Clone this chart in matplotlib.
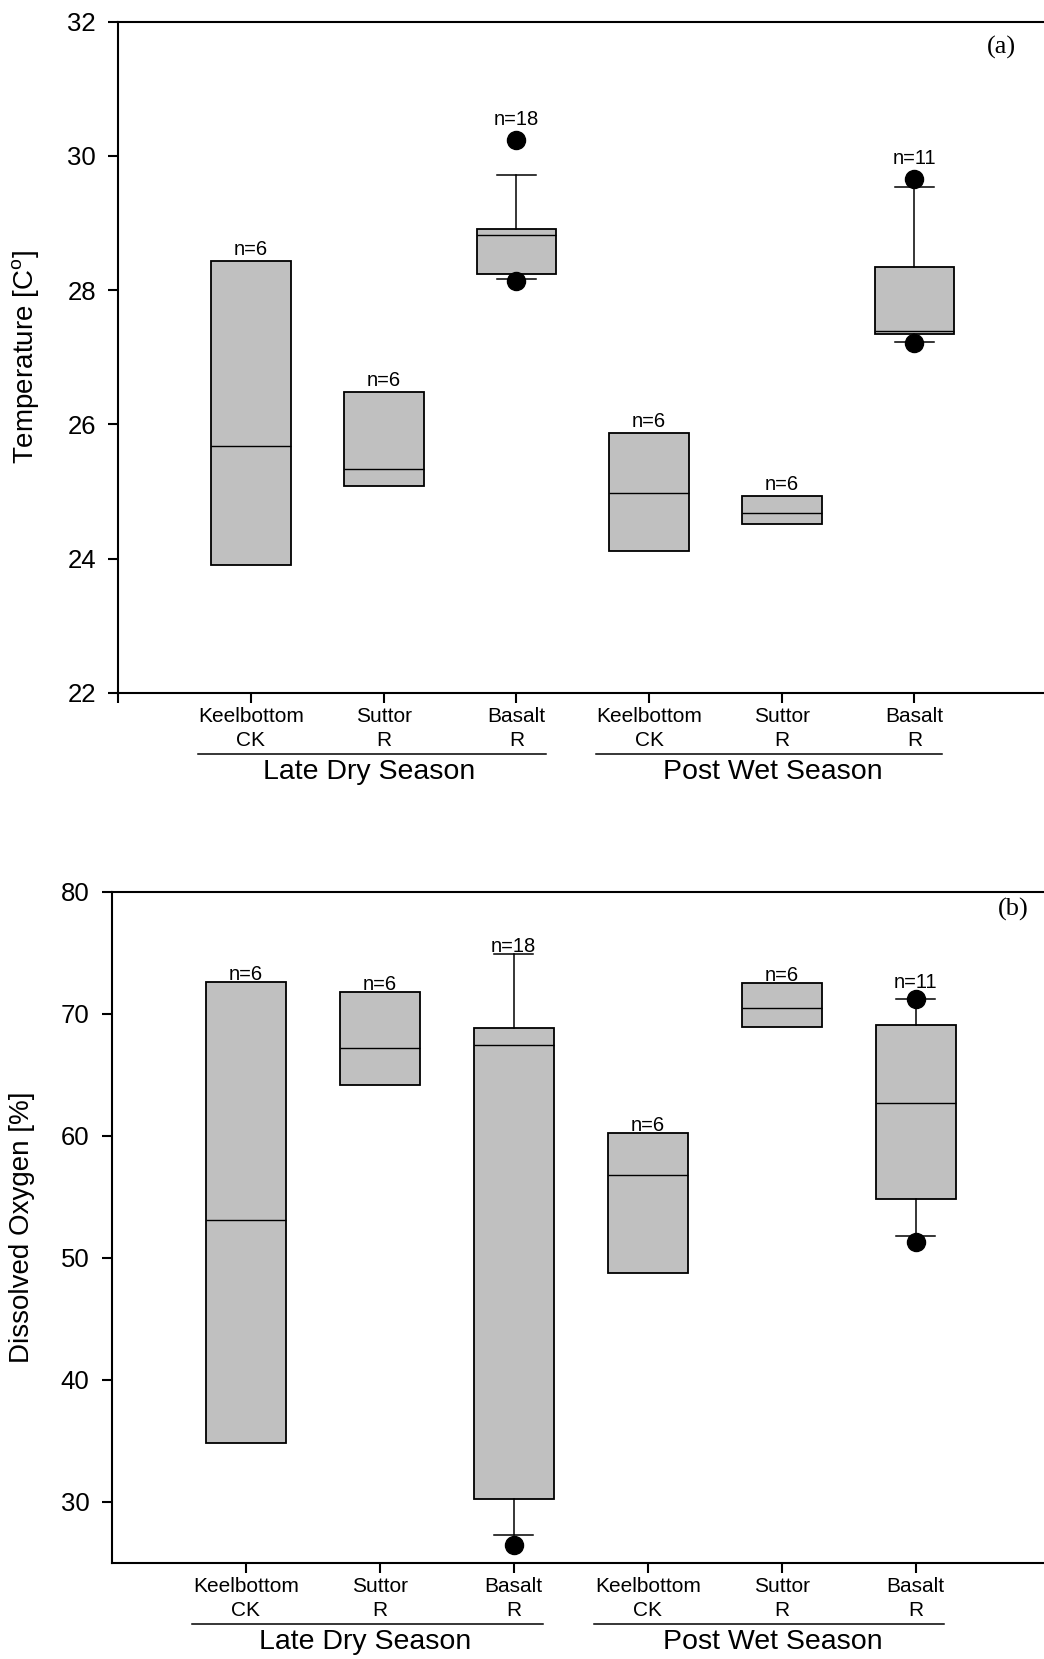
import numpy as np
import matplotlib
matplotlib.use("Agg")
import matplotlib.pyplot as plt

plt.rcParams['font.family'] = ['Liberation Sans', 'DejaVu Sans']
plt.rcParams['mathtext.default'] = 'regular'

# site labels, same order in both seasons
sites = ["Keelbottom\nCK", "Suttor\nR", "Basalt\nR",
         "Keelbottom\nCK", "Suttor\nR", "Basalt\nR"]
n_obs = [6, 6, 18, 6, 6, 11]
seasons = ["Late Dry Season", "Post Wet Season"]

# temperature summary stats (None = no whisker drawn)
temp_q1 = [23.90, 25.08, 28.24, 24.11, 24.52, 27.34]
temp_med = [25.67, 25.34, 28.82, 24.97, 24.68, 27.39]
temp_q3 = [28.43, 26.48, 28.91, 25.87, 24.93, 28.35]
temp_whislo = [None, None, 28.16, None, None, 27.22]
temp_whishi = [None, None, 29.71, None, None, 29.54]
temp_fliers = [[], [], [30.23, 28.14], [], [], [29.65, 27.21]]

# dissolved oxygen summary stats
do_q1 = [34.85, 64.13, 30.25, 48.76, 68.89, 54.81]
do_med = [53.10, 67.18, 67.39, 56.78, 70.43, 62.67]
do_q3 = [72.57, 71.81, 68.81, 60.20, 72.48, 69.10]
do_whislo = [None, None, 27.24, None, None, 51.80]
do_whishi = [None, None, 74.90, None, None, 71.20]
do_fliers = [[], [], [26.49], [], [], [71.23, 51.30]]

W, H = 1044, 1659
fig = plt.figure(figsize=(W / 100, H / 100), dpi=100)


def make_stats(q1, med, q3, wlo, whi, fl):
    stats = []
    for i in range(len(q1)):
        stats.append(dict(q1=q1[i], med=med[i], q3=q3[i],
                          whislo=q1[i] if wlo[i] is None else wlo[i],
                          whishi=q3[i] if whi[i] is None else whi[i],
                          fliers=np.array(fl[i])))
    return stats


def draw_panel(ax, stats, wlo, n_gap):
    pos = np.arange(1, len(stats) + 1)
    caps = [0.0 if w is None else 0.29 for w in wlo]
    ax.bxp(stats, positions=pos, widths=0.6, patch_artist=True,
           capwidths=caps,
           boxprops=dict(facecolor='#c0c0c0', edgecolor='black', linewidth=1.3),
           medianprops=dict(color='black', linewidth=1.0),
           whiskerprops=dict(color='black', linewidth=1.1),
           capprops=dict(color='black', linewidth=1.1),
           flierprops=dict(marker='o', markerfacecolor='black',
                           markeredgecolor='black', markersize=13))
    # sample sizes above each box
    for p, s, n in zip(pos, stats, n_obs):
        top = max([s['q3'], s['whishi']] + list(s['fliers']))
        off = n_gap + (9 if len(s['fliers']) and max(s['fliers']) >= top else 0)
        ax.annotate("n=%d" % n, (p, top), xytext=(0, off), textcoords='offset pixels',
                    ha='center', va='baseline', fontsize=14.5)

    for sp in ['top', 'left', 'bottom']:
        ax.spines[sp].set_linewidth(1.5)
    ax.spines['right'].set_visible(False)
    ax.tick_params(axis='both', direction='out', length=7, width=1.5)
    ax.tick_params(axis='y', labelsize=18.5, pad=9)
    ax.tick_params(axis='x', labelsize=15, pad=3.5)

    # season brackets under the site names
    tr = ax.get_xaxis_transform()
    for (x0, x1, xc), name in zip([(0.6, 3.22, 1.89), (3.6, 6.21, 4.93)], seasons):
        ax.plot([x0, x1], [-0.0913, -0.0913], color='black', lw=1.1,
                transform=tr, clip_on=False)
        ax.text(xc, -0.1175, name, transform=tr, ha='center', va='center',
                fontsize=20.5)


# (a) temperature
ax1 = fig.add_axes([118.3 / W, (H - 692.7) / H, (W - 118.3) / W, 671 / H])
draw_panel(ax1, make_stats(temp_q1, temp_med, temp_q3, temp_whislo, temp_whishi,
                           temp_fliers), temp_whislo, 6)
ax1.set_xlim(0, 6.976)
ax1.set_ylim(22, 32)
ax1.set_yticks(np.arange(22, 33, 2))
ax1.set_xticks(np.arange(0, 7))
ax1.set_xticklabels([''] + sites, linespacing=1.3)
ax1.set_ylabel("Temperature [C$^o$]", fontsize=20)
ax1.yaxis.set_label_coords(-0.083, 0.5)
ax1.text(0.9536, 0.962, "(a)", transform=ax1.transAxes, ha='center', va='center',
         fontsize=19, family='Liberation Serif')

# (b) dissolved oxygen
ax2 = fig.add_axes([111.7 / W, (H - 1562.7) / H, (W - 111.7) / W, 671.1 / H])
draw_panel(ax2, make_stats(do_q1, do_med, do_q3, do_whislo, do_whishi,
                           do_fliers), do_whislo, 2)
ax2.set_xlim(0, 6.957)
ax2.set_ylim(25, 80)
ax2.set_yticks(np.arange(30, 81, 10))
ax2.set_xticks(np.arange(1, 7))
ax2.set_xticklabels(sites, linespacing=1.3)
ax2.set_ylabel("Dissolved Oxygen [%]", fontsize=20)
ax2.yaxis.set_label_coords(-0.082, 0.5)
ax2.text(0.9668, 0.973, "(b)", transform=ax2.transAxes, ha='center', va='center',
         fontsize=19, family='Liberation Serif')

fig.savefig("out.png", dpi=100)
